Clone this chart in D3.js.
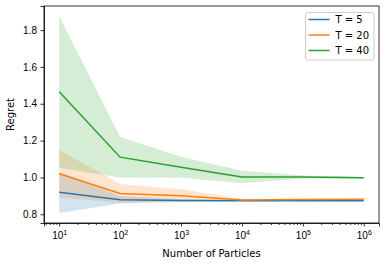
<!DOCTYPE html>
<meta charset="utf-8">
<style>
    body { margin: 0; background: #fff; }
    svg { font-family: "DejaVu Sans", sans-serif; }
    .axis path, .axis line { stroke: #000; stroke-width: 0.8px; }
    .axis text { font-size: 10px; fill: #000; }
</style>
<svg width="386" height="266"></svg>
<script src="https://cdn.jsdelivr.net/npm/d3@7"></script>
<script>

    // number of particles on the x axis
    var particles = [10, 100, 1000, 10000, 100000, 1000000];

    // mean regret and half-width of the shaded band, one pair per horizon
    var meanT5 = [0.919, 0.879, 0.875, 0.874, 0.874, 0.874];
    var bandT5 = [0.112, 0.020, 0.006, 0.003, 0.002, 0.002];
    var meanT20 = [1.020, 0.913, 0.900, 0.878, 0.880, 0.881];
    var bandT20 = [0.129, 0.051, 0.036, 0.006, 0.003, 0.003];
    var meanT40 = [1.465, 1.110, 1.055, 1.002, 1.002, 0.998];
    var bandT40 = [0.412, 0.110, 0.057, 0.034, 0.008, 0.005];

    var labels = ["T = 5", "T = 20", "T = 40"];
    var yTicks = [0.8, 1.0, 1.2, 1.4, 1.6, 1.8];

    var series = [
        { label: labels[0], mean: meanT5, band: bandT5, color: "#1f77b4" },
        { label: labels[1], mean: meanT20, band: bandT20, color: "#ff7f0e" },
        { label: labels[2], mean: meanT40, band: bandT40, color: "#2ca02c" }
    ];

    var svg = d3.select("svg"),
        margin = { top: 6, right: 7, bottom: 43, left: 44 },
        width = +svg.attr("width") - margin.left - margin.right,
        height = +svg.attr("height") - margin.top - margin.bottom;

    var g = svg.append("g").attr("transform", "translate(" + margin.left + "," + margin.top + ")");

    // matplotlib style 5% margins
    var x = d3.scaleLog().domain([Math.pow(10, 0.75), Math.pow(10, 6.25)]).range([0, width]);
    var y = d3.scaleLinear().domain([0.7525, 1.931]).range([height, 0]);

    series.forEach(function(s) {
        var pts = particles.map(function(p, i) { return { x: p, m: s.mean[i], b: s.band[i] }; });
        g.append("path")
            .datum(pts)
            .attr("fill", s.color)
            .attr("fill-opacity", 0.2)
            .attr("d", d3.area()
                .x(function(d) { return x(d.x); })
                .y0(function(d) { return y(d.m - d.b); })
                .y1(function(d) { return y(d.m + d.b); }));
    });

    series.forEach(function(s) {
        g.append("path")
            .datum(particles.map(function(p, i) { return [p, s.mean[i]]; }))
            .attr("fill", "none")
            .attr("stroke", s.color)
            .attr("stroke-width", 1.5)
            .attr("d", d3.line()
                .x(function(d) { return x(d[0]); })
                .y(function(d) { return y(d[1]); }));
    });

    // minor ticks on the log axis
    var minor = [];
    for (var e = 0; e <= 6; e++) {
        for (var k = 2; k <= 9; k++) {
            var v = k * Math.pow(10, e);
            if (v > x.domain()[0] && v < x.domain()[1]) minor.push(v);
        }
    }
    g.append("g")
        .attr("class", "axis")
        .attr("transform", "translate(0," + height + ")")
        .call(d3.axisBottom(x).tickValues(minor).tickSize(2).tickFormat(""))
        .select(".domain").remove();

    var xAxis = g.append("g")
        .attr("class", "axis")
        .attr("transform", "translate(0," + height + ")")
        .call(d3.axisBottom(x).tickValues(particles).tickSize(3.5).tickPadding(3.5).tickFormat(""));

    xAxis.selectAll(".tick").append("text")
        .attr("y", 16)
        .attr("text-anchor", "middle")
        .attr("fill", "#000")
        .each(function(d) {
            var t = d3.select(this);
            t.append("tspan").text("10");
            t.append("tspan")
                .attr("font-size", "7px")
                .attr("dy", -4)
                .text(Math.round(Math.log10(d)));
        });

    g.append("g")
        .attr("class", "axis")
        .call(d3.axisLeft(y).tickValues(yTicks).tickSize(3.5).tickPadding(3.5).tickFormat(d3.format(".1f")));

    // frame
    g.append("rect")
        .attr("width", width)
        .attr("height", height)
        .attr("fill", "none")
        .attr("stroke", "#000")
        .attr("stroke-width", 0.8);

    svg.append("text")
        .attr("x", margin.left + width / 2)
        .attr("y", 257)
        .attr("text-anchor", "middle")
        .attr("font-size", "10px")
        .text("Number of Particles");

    svg.append("text")
        .attr("transform", "translate(14," + (margin.top + height / 2) + ") rotate(-90)")
        .attr("text-anchor", "middle")
        .attr("font-size", "10px")
        .text("Regret");

    // legend
    var legend = svg.append("g").attr("transform", "translate(305.5,12.5)");
    legend.append("rect")
        .attr("width", 68.5)
        .attr("height", 47.5)
        .attr("rx", 2)
        .attr("fill", "#fff")
        .attr("fill-opacity", 0.8)
        .attr("stroke", "#cccccc")
        .attr("stroke-width", 1);

    var item = legend.selectAll(".item")
        .data(series)
        .enter().append("g")
        .attr("transform", function(d, i) { return "translate(0," + (7 + i * 15.5) + ")"; });

    item.append("line")
        .attr("x1", 3)
        .attr("x2", 24)
        .attr("stroke", function(d) { return d.color; })
        .attr("stroke-width", 1.5);

    item.append("text")
        .attr("x", 30)
        .attr("dy", "0.35em")
        .attr("font-size", "10px")
        .text(function(d) { return d.label; });

</script>
